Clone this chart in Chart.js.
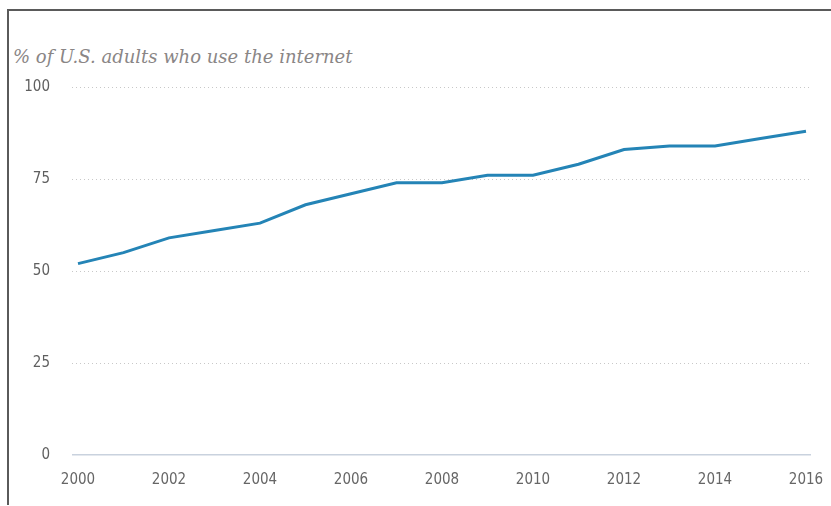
<!DOCTYPE html>
<html>
<head>
<meta charset="utf-8">
<script src="https://cdn.jsdelivr.net/npm/chart.js@4"></script>
<style>
  html, body { margin: 0; padding: 0; background: #fff; }
  #wrap { position: relative; width: 831px; height: 506px; overflow: hidden; }
  #frame {
    position: absolute; left: 7px; top: 9px; width: 830px; height: 494px;
    border-left: 2px solid #5a5a5a; border-top: 2px solid #5a5a5a;
  }
  #title {
    position: absolute; left: 13px; top: 46px;
    font-family: "DejaVu Serif", Georgia, serif; font-style: italic;
    font-size: 18px; color: #8a8686; white-space: nowrap;
  }
  canvas { position: absolute; left: 0; top: 0; }
</style>
</head>
<body>
<div id="wrap">
  <div id="frame"></div>
  <div id="title">% of U.S. adults who use the internet</div>
  <canvas id="c" width="831" height="506"></canvas>
</div>
<script>
// Share of U.S. adults who use the internet, by year
const years = [2000, 2001, 2002, 2003, 2004, 2005, 2006, 2007, 2008,
               2009, 2010, 2011, 2012, 2013, 2014, 2015, 2016];
const shares = [52, 55, 59, 61, 63, 68, 71, 74, 74,
                76, 76, 79, 83, 84, 84, 86, 88];
const xTicks = [2000, 2002, 2004, 2006, 2008, 2010, 2012, 2014, 2016];
const yTicks = [0, 25, 50, 75, 100];

const tickFont = { family: "'DejaVu Sans Condensed', 'DejaVu Sans', sans-serif", size: 15 };

new Chart(document.getElementById('c'), {
  type: 'line',
  data: {
    datasets: [{
      data: years.map((y, i) => ({ x: y, y: shares[i] })),
      borderColor: '#2484b6',
      borderWidth: 3,
      pointRadius: 0,
      tension: 0,
      fill: false
    }]
  },
  options: {
    responsive: false,
    animation: false,
    layout: { padding: { top: 87, left: 22, right: 20, bottom: 0 } },
    plugins: { legend: { display: false }, tooltip: { enabled: false }, title: { display: false } },
    scales: {
      x: {
        type: 'linear',
        min: 1999.868,
        max: 2016.11,
        afterBuildTicks: s => { s.ticks = xTicks.map(v => ({ value: v })); },
        afterFit: s => { s.height = 51; s.paddingRight = 0; s.paddingLeft = 0; },
        grid: { display: false, drawTicks: false },
        border: { display: false },
        ticks: { color: '#666', font: tickFont, padding: 16, maxRotation: 0, autoSkip: false,
                 callback: v => String(v) }
      },
      y: {
        min: 0,
        max: 100,
        afterBuildTicks: s => { s.ticks = yTicks.map(v => ({ value: v })); },
        afterFit: s => { s.width = 50; },
        grid: {
          drawTicks: false,
          color: ctx => (ctx.tick && ctx.tick.value === 0) ? '#c9d2de' : '#c8c8c8',
          lineWidth: ctx => (ctx.tick && ctx.tick.value === 0) ? 1.5 : 1
        },
        border: {
          display: false,
          dash: ctx => (ctx.tick && ctx.tick.value === 0) ? [] : [1, 3]
        },
        ticks: { color: '#5f5f5f', font: tickFont, padding: 22 }
      }
    }
  }
});
</script>
</body>
</html>
